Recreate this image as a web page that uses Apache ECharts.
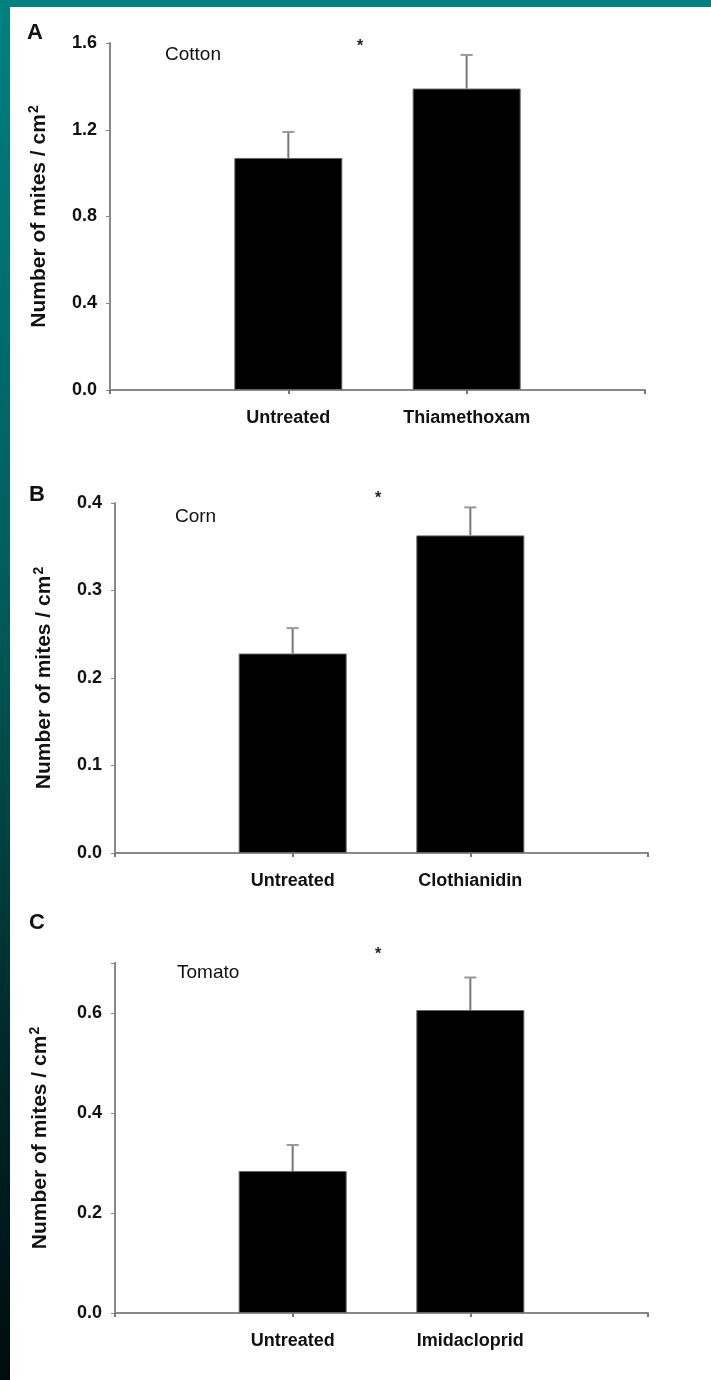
<!DOCTYPE html>
<html>
<head>
<meta charset="utf-8">
<script src="https://cdn.jsdelivr.net/npm/echarts@6/dist/echarts.min.js"></script>
<style>
  html, body { margin: 0; padding: 0; }
  #frame { position: absolute; left: 0; top: 0; width: 711px; height: 1380px;
           background: linear-gradient(to bottom, #008080 0%, #005a5a 45%, #002a2a 75%, #000c0c 100%); }
  #paper { position: absolute; left: 10px; top: 7px; width: 701px; height: 1373px; background: #ffffff; }
  #chart { position: absolute; left: 0; top: 0; width: 711px; height: 1380px; }
</style>
</head>
<body>
<div id="frame"></div>
<div id="paper"></div>
<div id="chart"></div>
<script>
// ---- data ----
const categoriesA = ['Untreated', 'Thiamethoxam'];
const valuesA = [1.07, 1.39];
const errorsA = [0.12, 0.155];

const categoriesB = ['Untreated', 'Clothianidin'];
const valuesB = [0.228, 0.363];
const errorsB = [0.029, 0.032];

const categoriesC = ['Untreated', 'Imidacloprid'];
const valuesC = [0.284, 0.606];
const errorsC = [0.052, 0.065];

const cropNames = ['Cotton', 'Corn', 'Tomato'];
const panelLetters = ['A', 'B', 'C'];
const yTicksA = { max: 1.6, interval: 0.4 };
const yTicksB = { max: 0.4, interval: 0.1 };
const yTicksC = { max: 0.7, interval: 0.2 };
const yAxisTitle = 'Number of mites / cm';

// ---- layout ----
const FONT = 'Liberation Sans, Arial, sans-serif';
const grids = [
  { left: 110, top: 43, width: 535, height: 347 },
  { left: 115, top: 503, width: 533, height: 350 },
  { left: 115, top: 963, width: 533, height: 350 }
];
const nameGaps = [58, 58, 62];
const panels = [
  { cats: categoriesA, vals: valuesA, errs: errorsA, ticks: yTicksA },
  { cats: categoriesB, vals: valuesB, errs: errorsB, ticks: yTicksB },
  { cats: categoriesC, vals: valuesC, errs: errorsC, ticks: yTicksC }
];

const option = {
  backgroundColor: 'transparent',
  animation: false,
  grid: grids.map(g => Object.assign({ outerBoundsMode: 'none', containLabel: false }, g)),
  xAxis: panels.map((p, i) => ({
    type: 'category',
    gridIndex: i,
    boundaryGap: false,
    data: [''].concat(p.cats, ['']),
    axisLine: { show: true, lineStyle: { color: '#888888', width: 2 } },
    axisTick: { show: true, interval: 0, length: 4, lineStyle: { color: '#777777', width: 2 } },
    axisLabel: { show: true, interval: 0, margin: 19, color: '#111111', fontFamily: FONT,
                 fontSize: 18, fontWeight: 'bold' },
    splitLine: { show: false }
  })),
  yAxis: panels.map((p, i) => ({
    type: 'value',
    gridIndex: i,
    min: 0,
    max: p.ticks.max,
    interval: p.ticks.interval,
    name: '{a|' + yAxisTitle + '}{s|2}',
    nameLocation: 'middle',
    nameRotate: 90,
    nameGap: nameGaps[i],
    nameTextStyle: {
      rich: {
        a: { fontFamily: FONT, fontSize: 21, fontWeight: 'bold', color: '#111111', lineHeight: 26 },
        s: { fontFamily: FONT, fontSize: 14, fontWeight: 'bold', color: '#111111', padding: [0, 0, 10, 1] }
      }
    },
    axisLine: { show: true, onZero: false, lineStyle: { color: '#888888', width: 2 } },
    axisTick: { show: true, length: 4, lineStyle: { color: '#888888', width: 1 } },
    axisLabel: {
      show: true, margin: 13, color: '#111111', fontFamily: FONT, fontSize: 18, fontWeight: 'bold',
      formatter: v => {
        const k = v / p.ticks.interval;
        return Math.abs(k - Math.round(k)) > 1e-6 ? '' : v.toFixed(1);
      }
    },
    splitLine: { show: false }
  })),
  title: panelLetters.map((t, i) => ({
    text: t, left: [22, 24, 24][i], top: [17, 479, 907][i],
    textStyle: { fontFamily: FONT, fontSize: 22, fontWeight: 'bold', color: '#111111' }
  })).concat(cropNames.map((t, i) => ({
    text: t, left: [160, 170, 172][i], top: [40, 502, 958][i],
    textStyle: { fontFamily: FONT, fontSize: 19, fontWeight: 'normal', color: '#111111' }
  }))).concat([0, 1, 2].map(i => ({
    text: '*', left: [352, 370, 370][i], top: [34, 486, 942][i],
    textStyle: { fontFamily: FONT, fontSize: 16, fontWeight: 'bold', color: '#222222' }
  }))),
  series: []
};

panels.forEach((p, i) => {
  option.series.push({
    type: 'bar',
    xAxisIndex: i, yAxisIndex: i,
    barWidth: 108,
    data: [null].concat(p.vals, [null]),
    itemStyle: { color: '#000000', borderColor: '#666666', borderWidth: 1 },
    z: 2
  });
  option.series.push({
    type: 'custom',
    xAxisIndex: i, yAxisIndex: i,
    z: 3,
    data: p.vals.map((v, k) => [k + 1, v, p.errs[k]]),
    renderItem: (params, api) => {
      const x = api.value(0), y = api.value(1), e = api.value(2);
      const base = api.coord([x, y]);
      const top = api.coord([x, y + e]);
      return {
        type: 'group',
        children: [
          { type: 'line', shape: { x1: base[0], y1: base[1], x2: top[0], y2: top[1] },
            style: { stroke: '#777777', lineWidth: 2 } },
          { type: 'line', shape: { x1: top[0] - 6, y1: top[1], x2: top[0] + 6, y2: top[1] },
            style: { stroke: '#999999', lineWidth: 2 } }
        ]
      };
    }
  });
});

const chart = echarts.init(document.getElementById('chart'), null, { renderer: 'canvas' });
chart.setOption(option);
</script>
</body>
</html>
